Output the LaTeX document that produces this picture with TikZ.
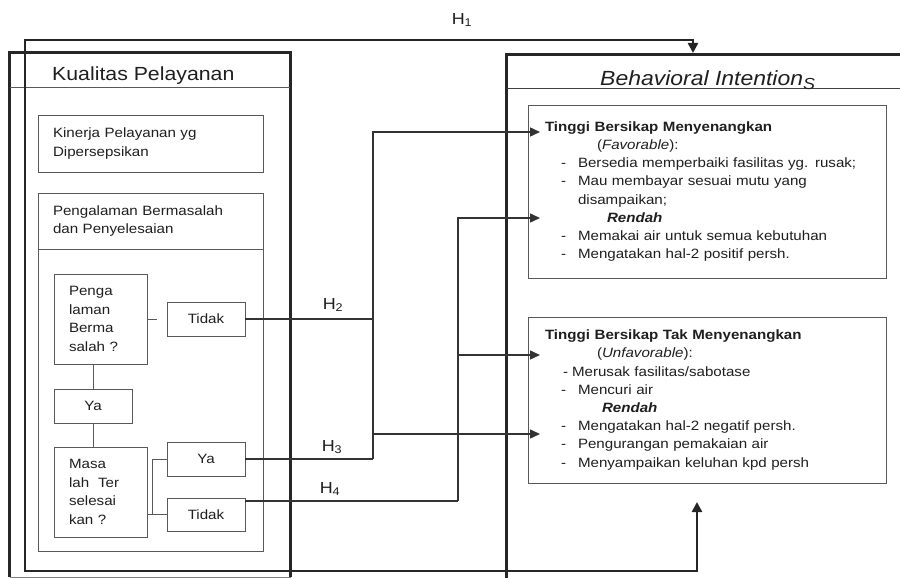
\documentclass[tikz,border=0pt]{standalone}
\usepackage{fontspec}
\setmainfont[FakeStretch=1.12]{Liberation Sans}
\usetikzlibrary{arrows.meta}
\newcommand{\itm}[1]{\hspace*{16pt}\makebox[17pt][l]{-}#1}
\begin{document}
\begin{tikzpicture}[x=1pt,y=-1pt,
	every node/.style={font=\fontsize{13.5}{18.2}\selectfont,text=black!88},
	box/.style={draw=black!65,line width=0.9pt,inner sep=0pt},
	thickline/.style={draw=black!85,line width=2.4pt},
	flow/.style={draw=black!65,line width=0.9pt},
	link/.style={draw=black!80,line width=1.4pt},
	arr/.style={link,-{Triangle[length=10pt,width=9pt]}},
	hloop/.style={thickline,{Triangle[length=10pt,width=10pt]}-{Triangle[length=10pt,width=10pt]}},
	hlabel/.style={font=\fontsize{16}{16}\selectfont}]
		\clip (0,0) rectangle (900,578);
		
		% Kualitas Pelayanan
		\node[box,draw=black!50,minimum width=280pt,minimum height=524pt] (kq) at (150,315) {};
		\draw[thickline] (kq.south west) -- (kq.north west) -- (kq.north east) -- (kq.south east);
		\draw[flow] ([yshift=-35pt]kq.north west) -- ([yshift=-35pt]kq.north east);
		\node[anchor=base west,inner sep=0pt,font=\fontsize{19}{19}\selectfont] (kqtitle) at (52,81) {Kualitas Pelayanan};
		
		\node[box,minimum width=225pt,minimum height=57pt,text width=195pt,align=left] (kin) at (150.5,143.5) {Kinerja Pelayanan yg\\Dipersepsikan};
		\node[box,minimum width=225pt,minimum height=56pt,text width=195pt,align=left] (pbhead) at (150.5,221) {Pengalaman Bermasalah\\dan Penyelesaian};
		\node[box,minimum width=225pt,minimum height=302pt] (pbbody) at (150.5,400) {};
		
		\node[box,minimum width=93pt,minimum height=90pt,text width=63pt,align=left,font=\fontsize{13.5}{18.5}\selectfont] (pq) at (100.5,319) {Penga\\laman\\Berma\\salah ?};
		\node[box,minimum width=78pt,minimum height=34pt] (tidakA) at (206,319) {Tidak};
		\node[box,minimum width=78pt,minimum height=34pt] (yaA) at (93,406) {Ya};
		\node[box,minimum width=93pt,minimum height=90pt,text width=63pt,align=left,font=\fontsize{13.5}{18.7}\selectfont] (mq) at (100.5,492) {Masa\\lah\ \ Ter\\selesai\\kan ?};
		\node[box,minimum width=78pt,minimum height=34pt] (yaB) at (206,459) {Ya};
		\node[box,minimum width=78pt,minimum height=33pt] (tidakB) at (206,514.5) {Tidak};
		
		\draw[flow,shorten >=10pt] (pq) -- (tidakA);
		\draw[flow] (pq.south -| yaA) -- (yaA);
		\draw[flow] (yaA) -- (yaA |- mq.north);
		\coordinate (br) at (152,514.5);
		\draw[flow] (mq.east |- br) -- (tidakB.west);
		\draw[flow] (br) |- (yaB.west);
		
		% Behavioral Intentions
		\node[box,draw=black!50,minimum width=420pt,minimum height=560pt] (bi) at (717,335) {};
		\draw[thickline] (bi.south west) -- (bi.north west) -- (bi.north east);
		\draw[flow,draw=black!75,line width=1.3pt] ([yshift=-34pt]bi.north west) -- ([yshift=-34pt]bi.north east);
		\node[anchor=base west,inner sep=0pt,font=\fontsize{20.5}{20.5}\selectfont\itshape] (bititle) at (600,85) {Behavioral Intention\raisebox{-4pt}{\fontsize{16}{16}\selectfont S}};
		
		\node[box,minimum width=358pt,minimum height=173pt,text width=324pt,align=left] (fav) at (707,191.5) {%
			\textbf{Tinggi Bersikap Menyenangkan}\\
			\hspace*{52pt}(\textit{Favorable}):\\
			\itm{Bersedia memperbaiki fasilitas yg. rusak;}\\
			\itm{Mau membayar sesuai mutu yang}\\
			\hspace*{33pt}disampaikan;\\
			\hspace*{62pt}\textbf{\textit{Rendah}}\\
			\itm{Memakai air untuk semua kebutuhan}\\
			\itm{Mengatakan hal-2 positif persh.}};
		\node[box,minimum width=358pt,minimum height=166pt,text width=324pt,align=left] (unf) at (707,400) {%
			\textbf{Tinggi Bersikap Tak Menyenangkan}\\
			\hspace*{52pt}(\textit{Unfavorable}):\\
			\hspace*{18pt}\makebox[9pt][l]{-}Merusak fasilitas/sabotase\\
			\itm{Mencuri air}\\
			\hspace*{57pt}\textbf{\textit{Rendah}}\\
			\itm{Mengatakan hal-2 negatif persh.}\\
			\itm{Pengurangan pemakaian air}\\
			\itm{Menyampaikan keluhan kpd persh}};
		
		% H2, H3, H4
		\coordinate (jA) at (373,132);
		\coordinate (jAb) at (373,459);
		\coordinate (jB) at (458,218);
		\coordinate (jBb) at (458,501);
		\coordinate (favA) at (540,132);
		\coordinate (favB) at (540,218);
		\coordinate (unfA) at (540,355);
		\coordinate (unfB) at (540,434);
		
		\draw[link] (tidakA.east) -- (tidakA.east -| jA);
		\draw[link] (yaB.east) -- (yaB.east -| jA);
		\draw[arr] (jAb) |- (favA);
		\draw[arr] (jA |- unfB) -- (unfB);
		\draw[link] (tidakB.north east |- jBb) -- (jBb);
		\draw[arr] (jBb) |- (favB);
		\draw[arr] (jB |- unfA) -- (unfA);
		
		\node[hlabel] (htwo) at (333,305) {H\textsubscript{2}};
		\node[hlabel] (hthree) at (332,447) {H\textsubscript{3}};
		\node[hlabel] (hfour) at (330,489) {H\textsubscript{4}};
		
		% H1
		\coordinate (hbot) at (697,502);
		\coordinate (hlow) at (25,571);
		\coordinate (hup) at (25,40);
		\coordinate (htop) at (693,53);
		\draw[hloop] (hbot) |- (hlow) -- (hup) -| (htop);
		\node[hlabel] (hone) at (462,20) {H\textsubscript{1}};
		
\end{tikzpicture}
\end{document}
